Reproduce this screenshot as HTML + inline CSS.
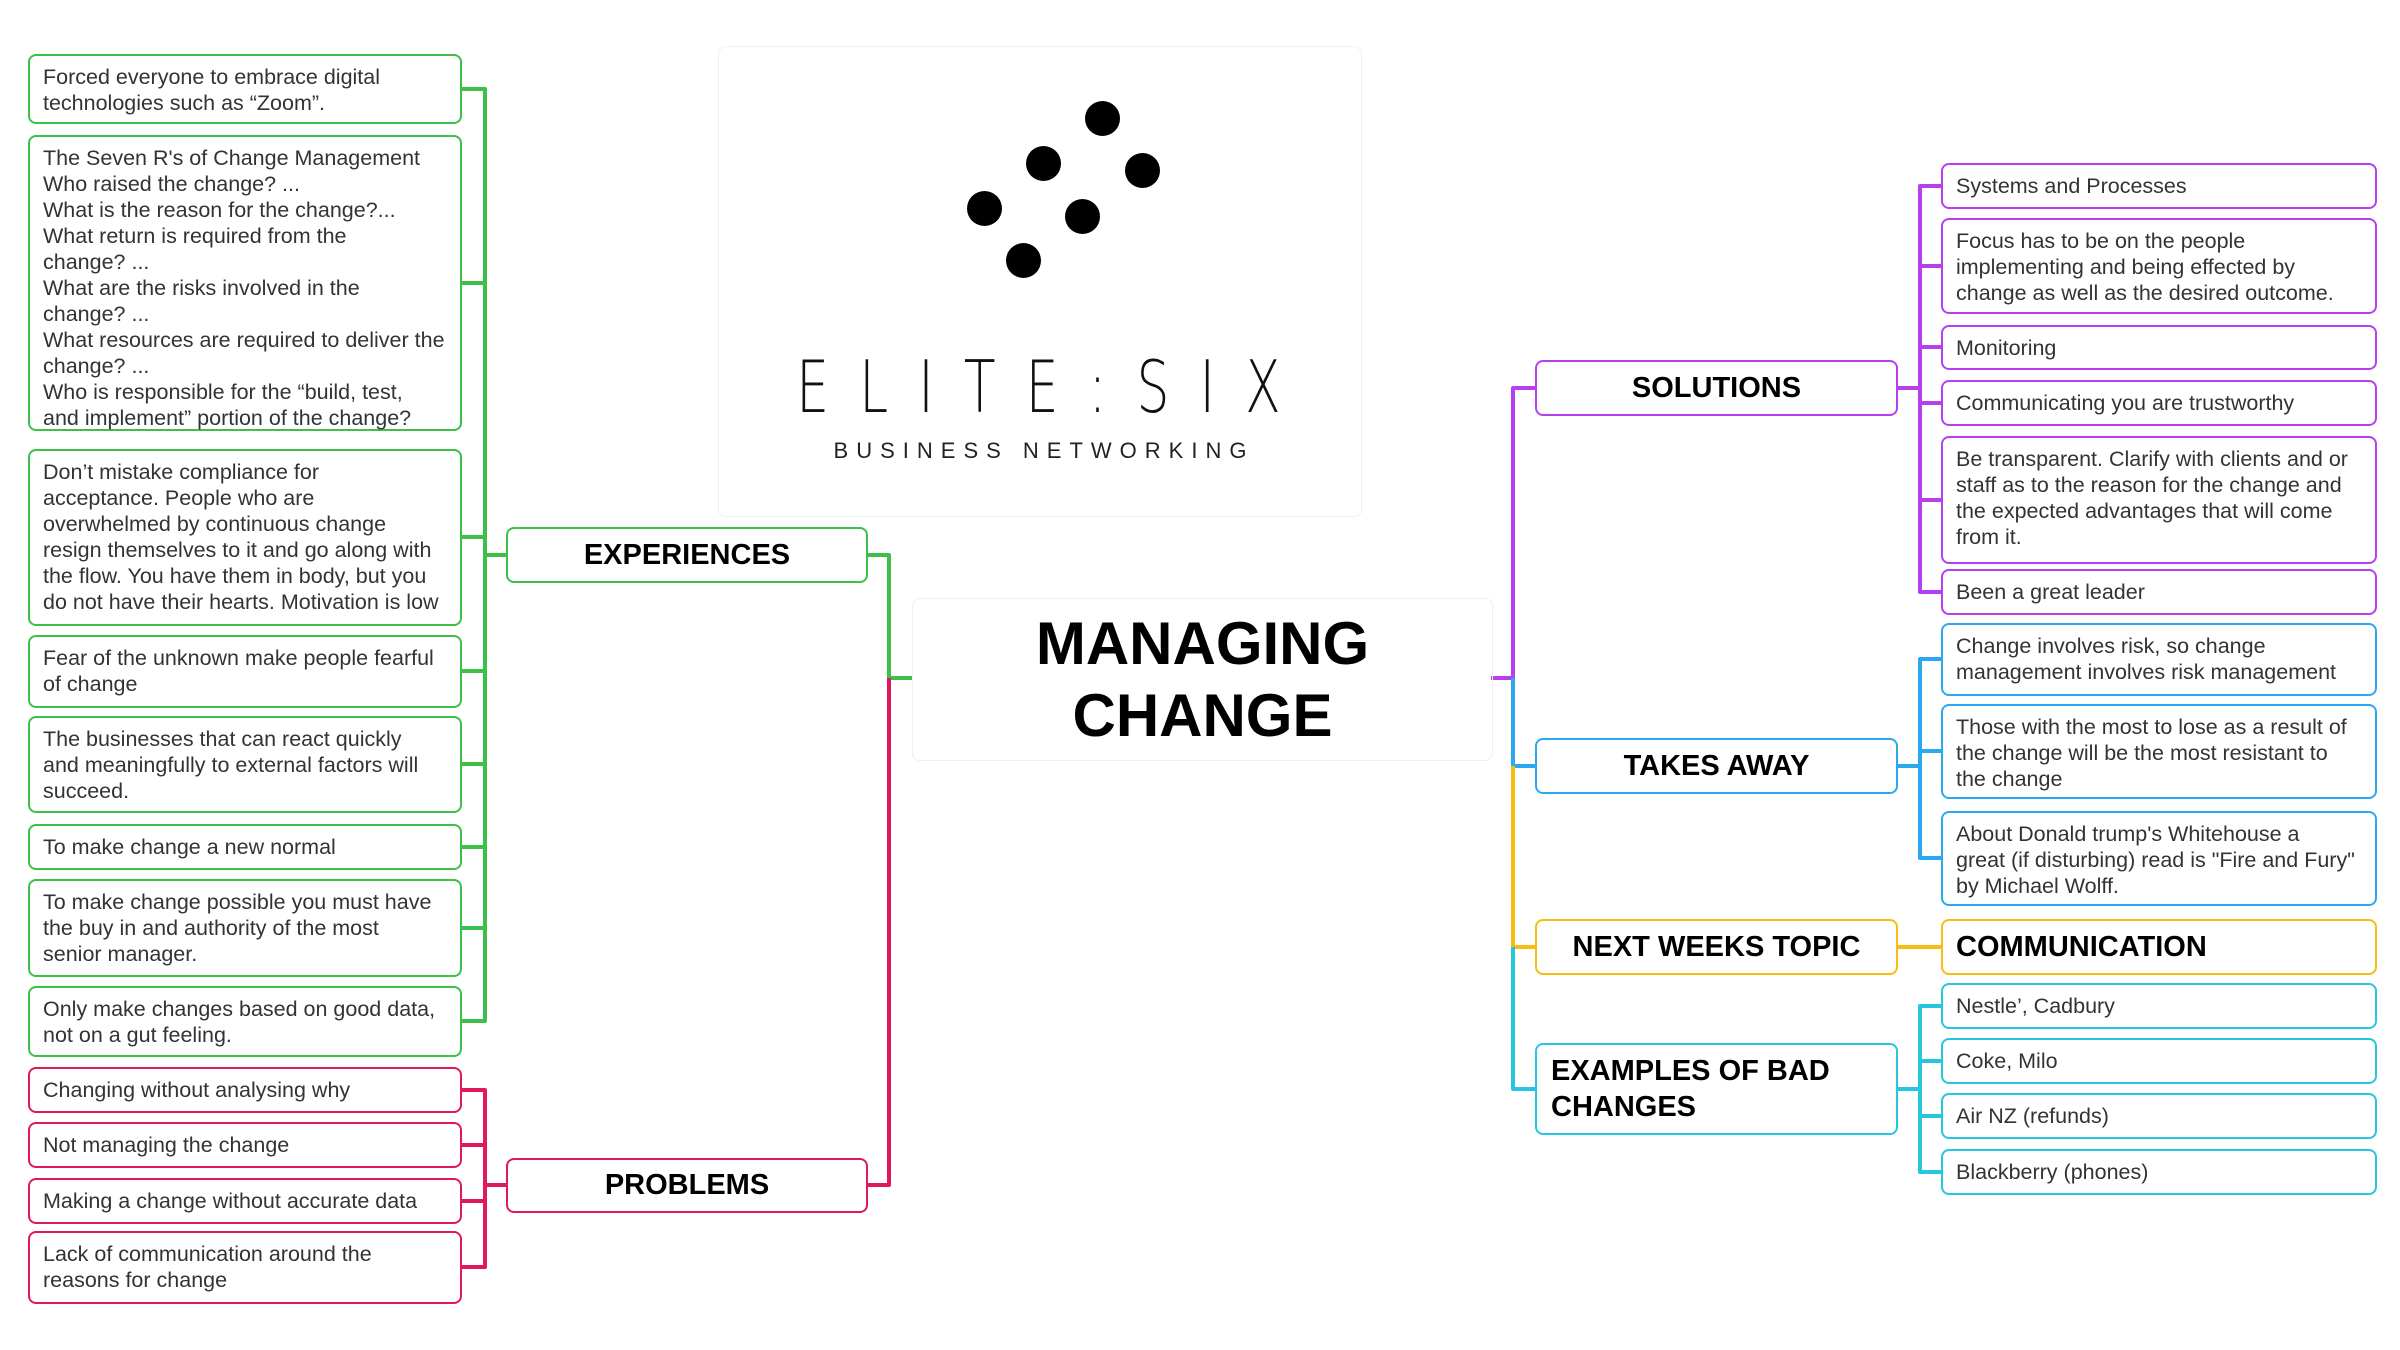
<!DOCTYPE html>
<html><head><meta charset="utf-8"><style>
body{margin:0;width:2400px;height:1350px;background:#fff;position:relative;overflow:hidden;font-family:"Liberation Sans",Arial,sans-serif}
.b{position:absolute;box-sizing:border-box;border:2px solid;border-radius:8px;background:#fff;color:#333;font-size:21.5px;line-height:26px;padding:8px 13px;white-space:nowrap}
.m{position:absolute;box-sizing:border-box;border:2px solid;border-radius:8px;background:#fff;color:#000;font-weight:bold;font-size:29px;display:flex;align-items:center;justify-content:center;text-align:center}
.g{border-color:#3cc04a}.r{border-color:#e0195a}.p{border-color:#b63ff0}.u{border-color:#2aa8f0}.y{border-color:#f7bd12}.c{border-color:#27c6e0}
svg{position:absolute;left:0;top:0}
.dot{position:absolute;width:35px;height:35px;border-radius:50%;background:#000}
</style></head><body>
<svg width="2400" height="1350" fill="none" stroke-width="4" stroke-linejoin="round">
<path stroke="#3cc04a" d="M462 89H485V1021H462 M462 283H485 M462 537H485 M462 671H485 M462 764H485 M462 847H485 M462 928H485 M485 555H506 M868 555H889V678H912"/>
<path stroke="#e0195a" d="M462 1090H485V1267H462 M462 1145H485 M462 1201H485 M485 1185H506 M868 1185H889V678"/>
<path stroke="#b63ff0" d="M1941 186H1920V592H1941 M1941 266H1920 M1941 347H1920 M1941 403H1920 M1941 500H1920 M1898 388H1920 M1491 678H1513V388H1535"/>
<path stroke="#2aa8f0" d="M1941 659H1920V858H1941 M1941 751H1920 M1898 766H1920 M1513 678V766H1535"/>
<path stroke="#f7bd12" d="M1513 766V947H1535 M1898 947H1941"/>
<path stroke="#27c6e0" d="M1513 947V1089H1535 M1941 1006H1920V1172H1941 M1941 1061H1920 M1941 1116H1920 M1898 1089H1920"/>
</svg>

<div style="position:absolute;left:718px;top:46px;width:642px;height:469px;border:1px solid #f0f0f0;border-radius:8px"></div>
<div class="dot" style="left:1085px;top:101px"></div>
<div class="dot" style="left:1026px;top:146px"></div>
<div class="dot" style="left:1125px;top:153px"></div>
<div class="dot" style="left:967px;top:191px"></div>
<div class="dot" style="left:1065px;top:199px"></div>
<div class="dot" style="left:1006px;top:243px"></div>
<div style="position:absolute;left:682px;top:345px;width:600px;text-align:center;font-size:72px;letter-spacing:42px;text-indent:42px;color:#111;transform:scaleX(0.72);font-family:'DejaVu Sans',sans-serif;font-weight:200">ELITE:SIX</div>
<div style="position:absolute;left:790px;top:438px;width:500px;text-align:center;font-size:22px;letter-spacing:8px;text-indent:8px;color:#222">BUSINESS NETWORKING</div>

<div style="position:absolute;left:912px;top:598px;width:579px;height:161px;border:1px solid #f0f0f0;border-radius:8px;display:flex;align-items:center;justify-content:center;text-align:center;font-weight:bold;font-size:60px;line-height:72px;color:#000">MANAGING<br>CHANGE</div>

<div class="b g" style="left:28px;top:54px;width:434px;height:70px">Forced everyone to embrace digital<br>technologies such as “Zoom”.</div>
<div class="b g" style="left:28px;top:135px;width:434px;height:296px">The Seven R's of Change Management<br>Who raised the change? ...<br>What is the reason for the change?...<br>What return is required from the<br>change? ...<br>What are the risks involved in the<br>change? ...<br>What resources are required to deliver the<br>change? ...<br>Who is responsible for the “build, test,<br>and implement” portion of the change?</div>
<div class="b g" style="left:28px;top:449px;width:434px;height:177px">Don’t mistake compliance for<br>acceptance. People who are<br>overwhelmed by continuous change<br>resign themselves to it and go along with<br>the flow. You have them in body, but you<br>do not have their hearts. Motivation is low</div>
<div class="b g" style="left:28px;top:635px;width:434px;height:73px">Fear of the unknown make people fearful<br>of change</div>
<div class="b g" style="left:28px;top:716px;width:434px;height:97px">The businesses that can react quickly<br>and meaningfully to external factors will<br>succeed.</div>
<div class="b g" style="left:28px;top:824px;width:434px;height:46px">To make change a new normal</div>
<div class="b g" style="left:28px;top:879px;width:434px;height:98px">To make change possible you must have<br>the buy in and authority of the most<br>senior manager.</div>
<div class="b g" style="left:28px;top:986px;width:434px;height:71px">Only make changes based on good data,<br>not on a gut feeling.</div>
<div class="b r" style="left:28px;top:1067px;width:434px;height:46px">Changing without analysing why</div>
<div class="b r" style="left:28px;top:1122px;width:434px;height:46px">Not managing the change</div>
<div class="b r" style="left:28px;top:1178px;width:434px;height:46px">Making a change without accurate data</div>
<div class="b r" style="left:28px;top:1231px;width:434px;height:73px">Lack of communication around the<br>reasons for change</div>

<div class="m g" style="left:506px;top:527px;width:362px;height:56px">EXPERIENCES</div>
<div class="m r" style="left:506px;top:1158px;width:362px;height:55px">PROBLEMS</div>

<div class="m p" style="left:1535px;top:360px;width:363px;height:56px">SOLUTIONS</div>
<div class="m u" style="left:1535px;top:738px;width:363px;height:56px">TAKES AWAY</div>
<div class="m y" style="left:1535px;top:919px;width:363px;height:56px">NEXT WEEKS TOPIC</div>
<div class="m c" style="left:1535px;top:1043px;width:363px;height:92px;justify-content:flex-start;text-align:left;padding-left:14px;line-height:36px">EXAMPLES OF BAD<br>CHANGES</div>

<div class="b p" style="left:1941px;top:163px;width:436px;height:46px">Systems and Processes</div>
<div class="b p" style="left:1941px;top:218px;width:436px;height:96px">Focus has to be on the people<br>implementing and being effected by<br>change as well as the desired outcome.</div>
<div class="b p" style="left:1941px;top:325px;width:436px;height:45px">Monitoring</div>
<div class="b p" style="left:1941px;top:380px;width:436px;height:46px">Communicating you are trustworthy</div>
<div class="b p" style="left:1941px;top:436px;width:436px;height:128px">Be transparent. Clarify with clients and or<br>staff as to the reason for the change and<br>the expected advantages that will come<br>from it.</div>
<div class="b p" style="left:1941px;top:569px;width:436px;height:46px">Been a great leader</div>
<div class="b u" style="left:1941px;top:623px;width:436px;height:73px">Change involves risk, so change<br>management involves risk management</div>
<div class="b u" style="left:1941px;top:704px;width:436px;height:95px">Those with the most to lose as a result of<br>the change will be the most resistant to<br>the change</div>
<div class="b u" style="left:1941px;top:811px;width:436px;height:95px">About Donald trump's Whitehouse a<br>great (if disturbing) read is "Fire and Fury"<br>by Michael Wolff.</div>
<div class="m y" style="left:1941px;top:919px;width:436px;height:56px;justify-content:flex-start;padding-left:13px">COMMUNICATION</div>
<div class="b c" style="left:1941px;top:983px;width:436px;height:46px">Nestle’, Cadbury</div>
<div class="b c" style="left:1941px;top:1038px;width:436px;height:46px">Coke, Milo</div>
<div class="b c" style="left:1941px;top:1093px;width:436px;height:46px">Air NZ (refunds)</div>
<div class="b c" style="left:1941px;top:1149px;width:436px;height:46px">Blackberry (phones)</div>
</body></html>
